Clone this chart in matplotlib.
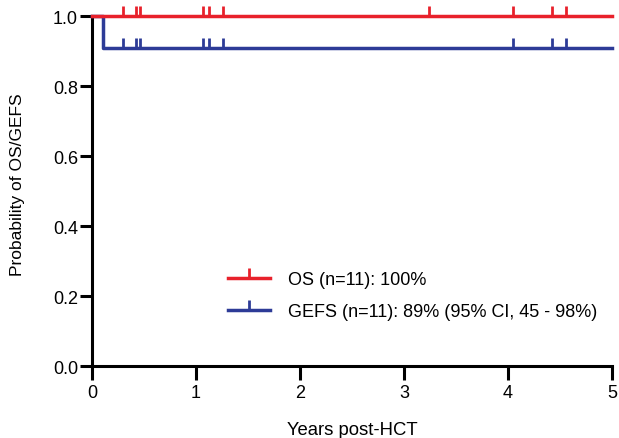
import matplotlib.pyplot as plt
from matplotlib.lines import Line2D

plt.rcParams["font.family"] = ["Liberation Sans", "DejaVu Sans"]

# Kaplan-Meier steps (years, survival)
os_times = [0.0, 5.0]
os_surv = [1.0, 1.0]
gefs_times = [0.0, 0.11, 5.0]
gefs_surv = [1.0, 0.909, 0.909]

# censored observations
os_censor = [0.30, 0.42, 0.46, 1.07, 1.13, 1.26, 3.24, 4.05, 4.42, 4.56]
gefs_censor = [0.30, 0.42, 0.46, 1.07, 1.13, 1.26, 4.05, 4.42, 4.56]

os_label = "OS (n=11): 100%"
gefs_label = "GEFS (n=11): 89% (95% CI, 45 - 98%)"

red = "#e8212b"
blue = "#2d3b97"

fig = plt.figure(figsize=(6.19, 4.39), dpi=100)
ax = fig.add_axes([0.1486, 0.164, 0.84, 0.797])

ax.step(gefs_times, gefs_surv, where="post", color=blue, lw=2.5, clip_on=False, zorder=3)
ax.step(os_times, os_surv, where="post", color=red, lw=2.5, clip_on=False, zorder=4)
ax.plot(gefs_censor, [0.909] * len(gefs_censor), ls="none", marker=2, ms=7,
        mew=2, color=blue, clip_on=False, zorder=3)
ax.plot(os_censor, [1.0] * len(os_censor), ls="none", marker=2, ms=7,
        mew=2, color=red, clip_on=False, zorder=4)

ax.set_xlim(0, 5)
ax.set_ylim(0, 1.0)
ax.set_xticks(range(6))
ax.set_yticks([0.0, 0.2, 0.4, 0.6, 0.8, 1.0])
ax.set_yticklabels(["0.0", "0.2", "0.4", "0.6", "0.8", "1.0"])
for s in ["top", "right"]:
    ax.spines[s].set_visible(False)
for s in ["left", "bottom"]:
    ax.spines[s].set_linewidth(2.2)
ax.tick_params(width=2.2, length=10, labelsize=13, colors="black")
ax.tick_params(axis="x", pad=3)
ax.tick_params(axis="y", pad=1, length=9)

ax.set_xlabel("Years post-HCT", fontsize=13.3, labelpad=14)
ax.set_ylabel("Probability of OS/GEFS", fontsize=12.5)
ax.yaxis.set_label_coords(-0.128, 0.52)

handles = [
    Line2D([0], [0], color=red, lw=2.5, marker=2, ms=7, mew=2),
    Line2D([0], [0], color=blue, lw=2.5, marker=2, ms=7, mew=2),
]
ax.legend(handles, [os_label, gefs_label], loc="center left",
          bbox_to_anchor=(0.369, 0.324), bbox_transform=fig.transFigure,
          frameon=False, fontsize=13, handlelength=2.3, handletextpad=1.0,
          labelspacing=0.85, numpoints=1, borderaxespad=0, borderpad=0)

fig.savefig("out.png", dpi=100)
